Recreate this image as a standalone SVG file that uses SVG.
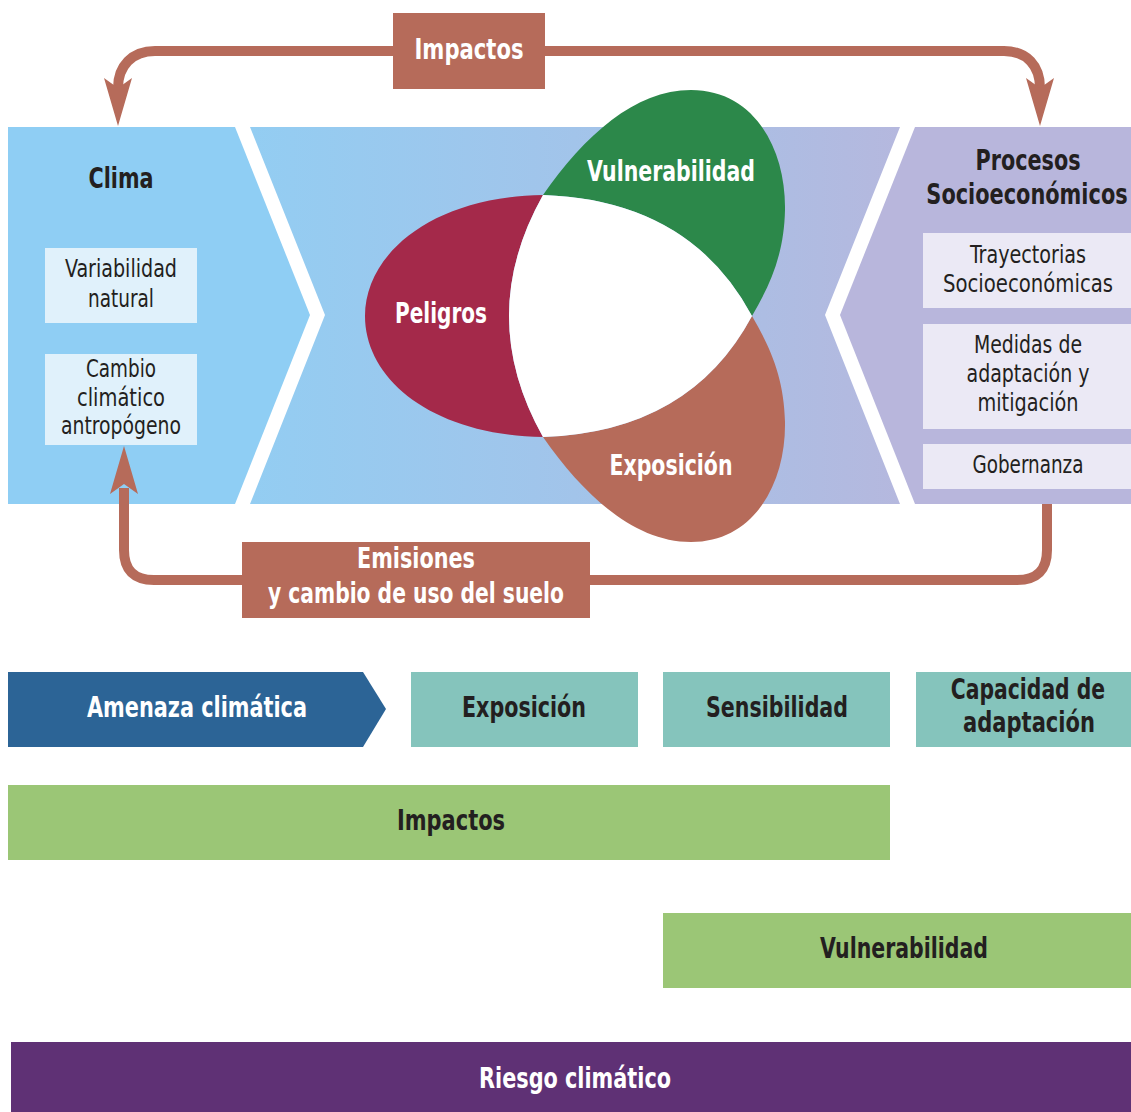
<svg xmlns="http://www.w3.org/2000/svg" width="1131" height="1112" viewBox="0 0 1131 1112">
<style>
text{font-family:"DejaVu Sans Condensed","Liberation Sans Narrow","Liberation Sans",sans-serif;text-anchor:middle}
.h{font-weight:bold;font-size:29px}
.w{fill:#ffffff}
.d{fill:#231f20}
.s{font-size:24px;fill:#231f20}
.con{fill:none;stroke:#b66b5a;stroke-width:10}
.tag{fill:#b66b5a}
.sub1{fill:#e0f1fb}
.sub2{fill:#ebe9f5}
.teal{fill:#85c4bc}
.grn{fill:#9bc676}
</style>
<defs>
<linearGradient id="mid" gradientUnits="userSpaceOnUse" x1="250" y1="0" x2="900" y2="0">
<stop offset="0" stop-color="#93cdf2"/>
<stop offset="0.5" stop-color="#a2c4ea"/>
<stop offset="1" stop-color="#b5b8de"/>
</linearGradient>
<path id="head" d="M0,0 L-14,-48 L0,-38 L14,-48 Z" fill="#b66b5a"/>
</defs>

<g id="clima">
<polygon points="8,127 235,127 310,315 235,504 8,504" fill="#8fcef4"/>
<text class="h d" x="121" y="188" textLength="65" lengthAdjust="spacingAndGlyphs">Clima</text>
<rect class="sub1" x="45" y="248" width="152" height="75"/>
<text class="s" x="121" y="277" textLength="112" lengthAdjust="spacingAndGlyphs">Variabilidad</text>
<text class="s" x="121" y="307" textLength="66" lengthAdjust="spacingAndGlyphs">natural</text>
<rect class="sub1" x="45" y="354" width="152" height="91"/>
<text class="s" x="121" y="377" textLength="70" lengthAdjust="spacingAndGlyphs">Cambio</text>
<text class="s" x="121" y="406" textLength="88" lengthAdjust="spacingAndGlyphs">climático</text>
<text class="s" x="121" y="434" textLength="120" lengthAdjust="spacingAndGlyphs">antropógeno</text>
</g>

<g id="centro">
<polygon points="250,127 900,127 825,315 900,504 250,504 325,315" fill="url(#mid)"/>
</g>

<g id="procesos">
<polygon points="915,127 1131,127 1131,504 915,504 840,315" fill="#b8b6dc"/>
<text class="h d" x="1028" y="170" textLength="105" lengthAdjust="spacingAndGlyphs">Procesos</text>
<text class="h d" transform="translate(1027,204) scale(0.8,1)" x="0" y="0">Socioeconómicos</text>
<rect class="sub2" x="923" y="233" width="208" height="75"/>
<text class="s" x="1028" y="263" textLength="116" lengthAdjust="spacingAndGlyphs">Trayectorias</text>
<text class="s" x="1028" y="292" textLength="170" lengthAdjust="spacingAndGlyphs">Socioeconómicas</text>
<rect class="sub2" x="923" y="324" width="208" height="105"/>
<text class="s" x="1028" y="353" textLength="108" lengthAdjust="spacingAndGlyphs">Medidas de</text>
<text class="s" x="1028" y="382" textLength="123" lengthAdjust="spacingAndGlyphs">adaptación y</text>
<text class="s" x="1028" y="411" textLength="101" lengthAdjust="spacingAndGlyphs">mitigación</text>
<rect class="sub2" x="923" y="444" width="208" height="45"/>
<text class="s" x="1028" y="473" textLength="111" lengthAdjust="spacingAndGlyphs">Gobernanza</text>
</g>

<g id="peligros">
<path d="M543,195 C430,197 365,255 365,316 C365,378 430,435 543,437 Q475,316 543,195 Z" fill="#a4294a"/>
<text class="h w" x="441" y="323" textLength="92" lengthAdjust="spacingAndGlyphs">Peligros</text>
</g>
<g id="vulnerabilidad-petal">
<path d="M543,195 C585,135 635,90 691,90 C755,90 786,150 785,210 C784,255 770,285 752,316 Q690,200 543,195 Z" fill="#2c884a"/>
<text class="h w" x="671" y="181" textLength="168" lengthAdjust="spacingAndGlyphs">Vulnerabilidad</text>
</g>
<g id="exposicion-petal">
<path d="M543,437 C585,497 635,542 691,542 C755,542 786,482 785,422 C784,377 770,347 752,316 Q690,432 543,437 Z" fill="#b66b5a"/>
<text class="h w" x="671" y="475" textLength="123" lengthAdjust="spacingAndGlyphs">Exposición</text>
</g>
<g id="nucleo">
<path d="M543,195 Q690,200 752,316 Q690,432 543,437 Q475,316 543,195 Z" fill="#ffffff"/>
</g>

<g id="connectors">
<path class="con" d="M118,88 C118,66 132,51 155,51 H1004 C1027,51 1040,66 1040,88"/>
<path class="con" d="M1047,504 V550 Q1047,580 1017,580 H154 Q124,580 124,550 V488"/>
<use href="#head" transform="translate(118,126)"/>
<use href="#head" transform="translate(1040,126)"/>
<use href="#head" transform="translate(124,446) rotate(180)"/>
</g>

<g id="impactos-tag">
<rect class="tag" x="393" y="13" width="152" height="76"/>
<text class="h w" x="469" y="59" textLength="109" lengthAdjust="spacingAndGlyphs">Impactos</text>
</g>
<g id="emisiones-tag">
<rect class="tag" x="242" y="542" width="348" height="76"/>
<text class="h w" x="416" y="568" textLength="118" lengthAdjust="spacingAndGlyphs">Emisiones</text>
<text class="h w" x="416" y="603" textLength="296" lengthAdjust="spacingAndGlyphs">y cambio de uso del suelo</text>
</g>

<g id="amenaza">
<polygon points="8,672 363,672 386,709 363,747 8,747" fill="#2c6496"/>
<text class="h w" x="197" y="717" textLength="220" lengthAdjust="spacingAndGlyphs">Amenaza climática</text>
</g>
<g id="exposicion">
<rect class="teal" x="411" y="672" width="227" height="75"/>
<text class="h d" x="524" y="717" textLength="124" lengthAdjust="spacingAndGlyphs">Exposición</text>
</g>
<g id="sensibilidad">
<rect class="teal" x="663" y="672" width="227" height="75"/>
<text class="h d" x="777" y="717" textLength="142" lengthAdjust="spacingAndGlyphs">Sensibilidad</text>
</g>
<g id="capacidad">
<rect class="teal" x="916" y="672" width="215" height="75"/>
<text class="h d" transform="translate(1028,699) scale(0.78,1)" x="0" y="0">Capacidad de</text>
<text class="h d" x="1029" y="732" textLength="132" lengthAdjust="spacingAndGlyphs">adaptación</text>
</g>
<g id="impactos">
<rect class="grn" x="8" y="785" width="882" height="75"/>
<text class="h d" x="451" y="830" textLength="108" lengthAdjust="spacingAndGlyphs">Impactos</text>
</g>
<g id="vulnerabilidad">
<rect class="grn" x="663" y="913" width="468" height="75"/>
<text class="h d" x="904" y="958" textLength="168" lengthAdjust="spacingAndGlyphs">Vulnerabilidad</text>
</g>
<g id="riesgo">
<rect x="11" y="1042" width="1120" height="70" fill="#5f3175"/>
<text class="h w" x="575" y="1088" textLength="192" lengthAdjust="spacingAndGlyphs">Riesgo climático</text>
</g>
</svg>
